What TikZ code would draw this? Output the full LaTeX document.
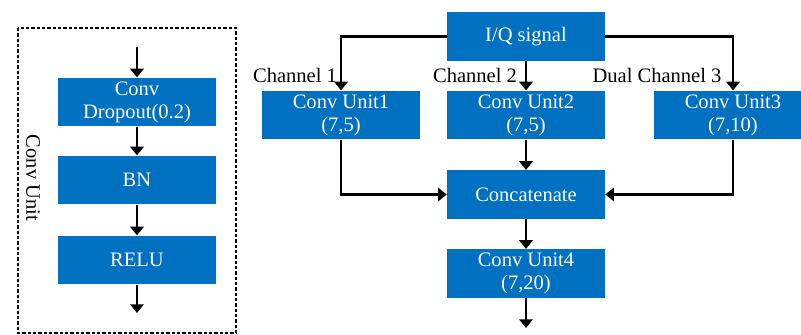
\documentclass[tikz,border=0pt]{standalone}
\usepackage{fontspec}
\setmainfont{Liberation Serif}
\usetikzlibrary{arrows.meta}
\definecolor{boxblue}{HTML}{0070C0}
\begin{document}
\begin{tikzpicture}[x=0.75pt,y=-0.75pt,
  font=\fontsize{15.4}{17.3}\selectfont,
  blk/.style={fill=boxblue,text=white,draw=none,minimum width=118.5pt,minimum height=36.5pt,inner sep=0pt,align=center},
  arr/.style={line width=1.7pt,-{Triangle[width=10pt,length=6.5pt]}},
  lbl/.style={anchor=base,inner sep=0pt}]
\useasboundingbox (0,0) rectangle (801,335);
% left: conv unit detail
\draw[line width=1.6pt,dash pattern=on 2.5pt off 1.5pt] (18,28) rectangle (236,333);
\node[rotate=-90] (cu) at (33,178) {Conv Unit};
\node[blk] (cd) at (137,102) {Conv\\Dropout(0.2)};
\node[blk] (bn) at (137,180) {BN};
\node[blk] (relu) at (137,260) {RELU};
\coordinate (lin0) at (137,47);
\coordinate (lout) at (137,313);
\draw[arr] (lin0) -- (cd.north);
\draw[arr] (cd.south) -- (bn.north);
\draw[arr] (bn.south) -- (relu.north);
\draw[arr] (relu.south) -- (lout);
% right: network
\node[blk] (iq) at (526,36.5) {I/Q signal};
\node[blk] (u1) at (341,115) {Conv Unit1\\(7,5)};
\node[blk] (u2) at (526,115) {Conv Unit2\\(7,5)};
\node[blk] (u3) at (733,115) {Conv Unit3\\(7,10)};
\node[blk] (cat) at (526,194.5) {Concatenate};
\node[blk] (u4) at (526,273.5) {Conv Unit4\\(7,20)};
\coordinate (out) at (526,328);
\node[lbl] (c1) at (295,83) {Channel 1};
\node[lbl] (c2) at (475,83) {Channel 2};
\node[lbl] (c3) at (657,83) {Dual Channel 3};
\draw[arr] (iq.west) -| (u1.north);
\draw[arr] (iq.south) -- (u2.north);
\draw[arr] (iq.east) -| (u3.north);
\draw[arr] (u2.south) -- (cat.north);
\draw[arr] (u1.south) |- (cat.west);
\draw[arr] (u3.south) |- (cat.east);
\draw[arr] (cat.south) -- (u4.north);
\draw[arr] (u4.south) -- (out);
\end{tikzpicture}
\end{document}
